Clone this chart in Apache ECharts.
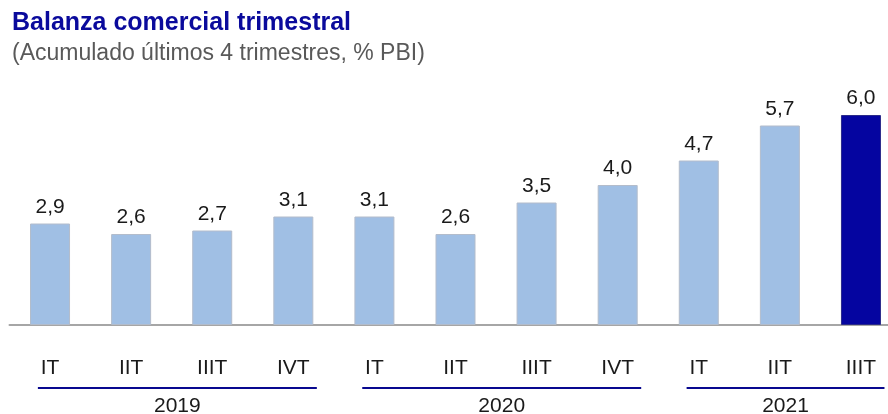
<!DOCTYPE html>
<html>
<head>
<meta charset="utf-8">
<script src="https://cdn.jsdelivr.net/npm/echarts@6/dist/echarts.min.js"></script>
<style>
  html, body { margin: 0; padding: 0; background: #fff; }
  #chart { width: 888px; height: 414px; }
</style>
</head>
<body>
<div id="chart"></div>
<script>
// datos
var quarters = ['IT', 'IIT', 'IIIT', 'IVT', 'IT', 'IIT', 'IIIT', 'IVT', 'IT', 'IIT', 'IIIT'];
var quarterYear = ['2019', '2019', '2019', '2019', '2020', '2020', '2020', '2020', '2021', '2021', '2021'];
var values = [2.9, 2.6, 2.7, 3.1, 3.1, 2.6, 3.5, 4.0, 4.7, 5.7, 6.0];
var years = ['2019', '2020', '2021'];

var font = "'Liberation Sans', Arial, sans-serif";
var cats = quarters.map(function (q, i) { return quarterYear[i] + '-' + q; });

var mychart = echarts.init(document.getElementById('chart'));

var option = {
    animation: false,
    title: [
        {
            text: 'Balanza comercial trimestral',
            left: 7, top: 6,
            textStyle: { fontFamily: font, fontSize: 25, fontWeight: 'bold', color: '#0a0a9c' }
        },
        {
            text: '(Acumulado últimos 4 trimestres, % PBI)',
            left: 7, top: 37,
            textStyle: { fontFamily: font, fontSize: 23, fontWeight: 'normal', color: '#595959' }
        }
    ],
    grid: { left: 9.5, right: -13.5, top: 80, height: 245, containLabel: false, outerBoundsMode: 'none' },
    xAxis: {
        type: 'category',
        data: cats,
        axisLine: { lineStyle: { color: '#a6a6a6', width: 2 } },
        axisTick: { show: false },
        axisLabel: {
            margin: 33,
            fontFamily: font, fontSize: 21, color: '#1a1a1a',
            formatter: function (v) { return v.split('-')[1]; }
        }
    },
    yAxis: { type: 'value', min: 0, max: 7, show: false, splitLine: { show: false } },
    series: [{
        type: 'bar',
        barWidth: 40,
        data: values.map(function (v, i) {
            var last = i === values.length - 1;
            return {
                value: v,
                itemStyle: {
                    color: last ? '#0505a0' : '#a0bfe4',
                    borderColor: last ? '#2a2a8a' : '#b3bccb',
                    borderWidth: 1
                }
            };
        }),
        label: {
            show: true, position: 'top', distance: 6,
            fontFamily: font, fontSize: 21, color: '#1a1a1a',
            formatter: function (p) { return p.value.toFixed(1).replace('.', ','); }
        }
    }]
};
mychart.setOption(option);

// líneas y etiquetas de años, ubicadas con la escala del eje
var px = function (i) { return mychart.convertToPixel({ xAxisIndex: 0 }, cats[i]); };
var band = px(1) - px(0);
var graphics = [];
years.forEach(function (y) {
    var first = quarterYear.indexOf(y);
    var last = quarterYear.lastIndexOf(y);
    var x1 = px(first) - 0.15 * band;
    var x2 = px(last) + 0.29 * band;
    graphics.push({
        type: 'line',
        shape: { x1: x1, y1: 388, x2: x2, y2: 388 },
        style: { stroke: '#08088f', lineWidth: 2 }
    });
    graphics.push({
        type: 'text',
        x: (x1 + x2) / 2, y: 406,
        style: {
            text: y, fill: '#1a1a1a', font: '21px ' + font,
            textAlign: 'center', textVerticalAlign: 'middle'
        }
    });
});
mychart.setOption({ graphic: graphics });
</script>
</body>
</html>
